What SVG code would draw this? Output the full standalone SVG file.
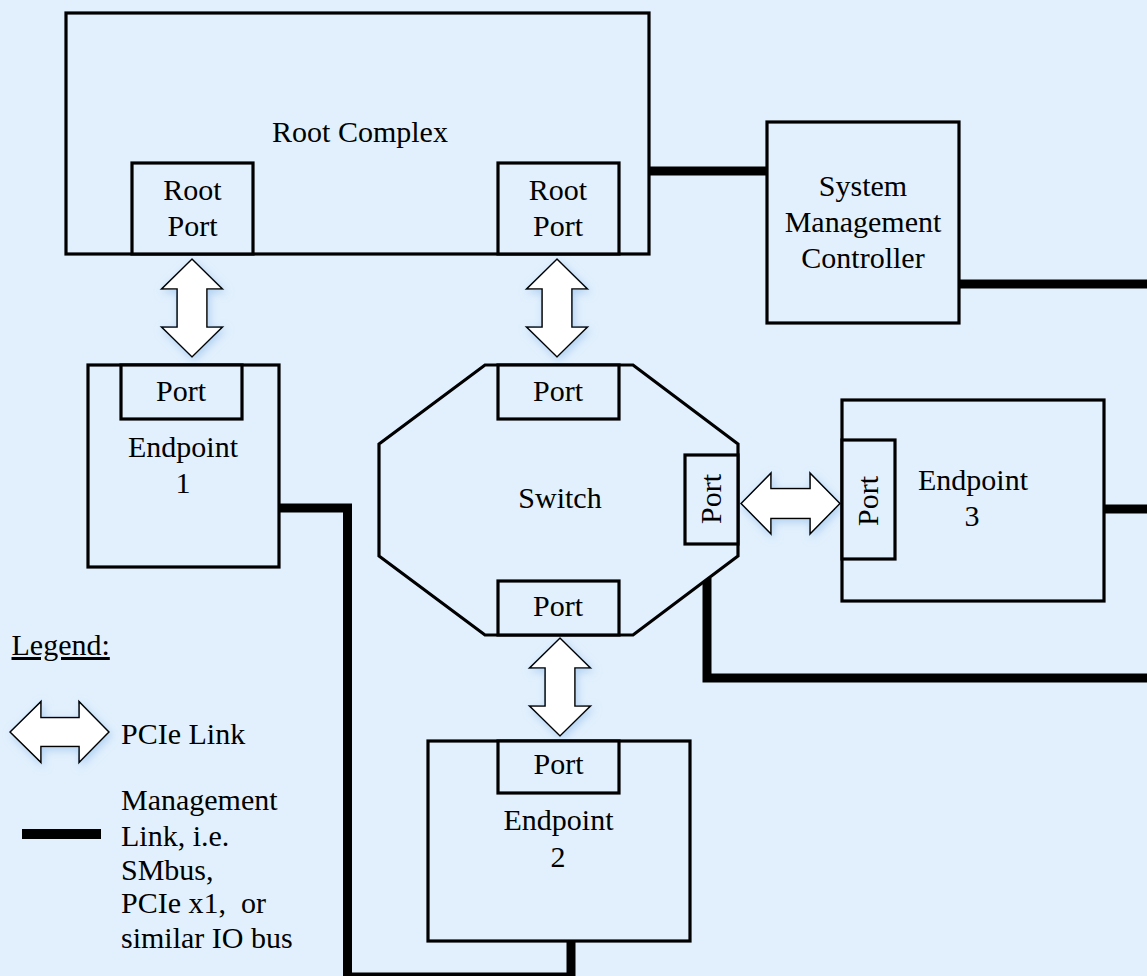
<svg xmlns="http://www.w3.org/2000/svg" width="1147" height="976" viewBox="0 0 1147 976">
  <defs>
    <filter id="glow" x="-30%" y="-30%" width="160%" height="160%">
      <feGaussianBlur in="SourceAlpha" stdDeviation="4" result="b"/>
      <feFlood flood-color="#9cc4ec" flood-opacity="0.7"/>
      <feComposite in2="b" operator="in" result="s"/>
      <feOffset dx="2" dy="3" result="o"/>
      <feMerge><feMergeNode in="o"/><feMergeNode in="SourceGraphic"/></feMerge>
    </filter>
  </defs>
  <style>
    .box { fill: #e2f0fd; stroke: #000; stroke-width: 3.2; }
    .port { fill: #e2f0fd; stroke: #000; stroke-width: 3.2; }
    .arrow { fill: #ffffff; stroke: #000; stroke-width: 1.6; stroke-linejoin: miter; filter: url(#glow); }
    .mgmt { fill: none; stroke: #000; stroke-width: 9; stroke-linejoin: miter; }
    text { font-family: "Liberation Serif", "Times New Roman", serif; font-size: 30px; fill: #000; }
    .c { text-anchor: middle; }
  </style>
  <rect x="0" y="0" width="1147" height="976" fill="#e2f0fd"/>

  <g id="connectors">
    <path class="mgmt" d="M649 171 H767"/>
    <path class="mgmt" d="M959 284 H1147"/>
    <path class="mgmt" d="M1104 509 H1147"/>
    <path class="mgmt" d="M707 578 V678 H1147"/>
    <path class="mgmt" d="M279 508 H347.5 V977 H571 V941"/>
    <polygon class="arrow" points="192,259 222.5,289 207,289 207,327 222.5,327 192,357 161.5,327 177,327 177,289 161.5,289"/>
    <polygon class="arrow" points="557,259 587.5,289 572,289 572,327 587.5,327 557,357 526.5,327 542,327 542,289 526.5,289"/>
    <polygon class="arrow" points="560,638 590.5,668 575,668 575,706 590.5,706 560,736 529.5,706 545,706 545,668 529.5,668"/>
    <polygon class="arrow" points="741,503.5 771,473 771,488.5 810,488.5 810,473 840,503.5 810,534 810,518.5 771,518.5 771,534"/>
  </g>

  <g id="root-complex">
    <rect class="box" x="66" y="13" width="583" height="241"/>
    <text class="c" x="360" y="142">Root Complex</text>
  </g>
  <g id="root-port-1">
    <rect class="port" x="132" y="163" width="121" height="91"/>
    <text class="c" x="192.5" y="200">Root</text>
    <text class="c" x="192.5" y="236">Port</text>
  </g>
  <g id="root-port-2">
    <rect class="port" x="498" y="163" width="121" height="91"/>
    <text class="c" x="558" y="200">Root</text>
    <text class="c" x="558" y="236">Port</text>
  </g>

  <g id="smc">
    <rect class="box" x="767" y="122" width="192" height="201"/>
    <text class="c" x="863" y="196">System</text>
    <text class="c" x="863" y="232">Management</text>
    <text class="c" x="863" y="268">Controller</text>
  </g>

  <g id="endpoint-1">
    <rect class="box" x="88" y="365" width="191" height="202"/>
    <rect class="port" x="121" y="365" width="121" height="54"/>
    <text class="c" x="181" y="401">Port</text>
    <text class="c" x="183" y="457">Endpoint</text>
    <text class="c" x="183" y="493">1</text>
  </g>

  <g id="switch">
    <polygon class="box" points="485,365 633,365 738,444 738,556 633,635 485,635 379,556 379,444"/>
    <rect class="port" x="498" y="365" width="121" height="54"/>
    <text class="c" x="558" y="401">Port</text>
    <text class="c" x="560" y="508">Switch</text>
    <rect class="port" x="498" y="581" width="121" height="54"/>
    <text class="c" x="558" y="616">Port</text>
    <rect class="port" x="685" y="455" width="53" height="89"/>
    <text class="c" transform="translate(721,499) rotate(-90)" x="0" y="0">Port</text>
  </g>

  <g id="endpoint-3">
    <rect class="box" x="842" y="400" width="262" height="201"/>
    <rect class="port" x="842" y="440" width="53" height="119"/>
    <text class="c" transform="translate(878,501) rotate(-90)" x="0" y="0">Port</text>
    <text class="c" x="973" y="490">Endpoint</text>
    <text class="c" x="972" y="526">3</text>
  </g>

  <g id="endpoint-2">
    <rect class="box" x="428" y="741" width="262" height="200"/>
    <rect class="port" x="498" y="741" width="121" height="52"/>
    <text class="c" x="558.5" y="774">Port</text>
    <text class="c" x="558.5" y="830">Endpoint</text>
    <text class="c" x="558" y="867">2</text>
  </g>

  <g id="legend">
    <text x="11.5" y="655" text-decoration="underline">Legend:</text>
    <polygon class="arrow" points="10,732 41,701.5 41,717.5 79,717.5 79,701.5 109,732 79,762.5 79,746.5 41,746.5 41,762.5"/>
    <text x="121" y="744">PCIe Link</text>
    <rect x="22" y="829" width="79" height="10" fill="#000"/>
    <text x="121" y="810">Management</text>
    <text x="121" y="846">Link, i.e.</text>
    <text x="121" y="880">SMbus,</text>
    <text x="121" y="913" xml:space="preserve">PCIe x1,  or</text>
    <text x="121" y="948">similar IO bus</text>
  </g>
</svg>
